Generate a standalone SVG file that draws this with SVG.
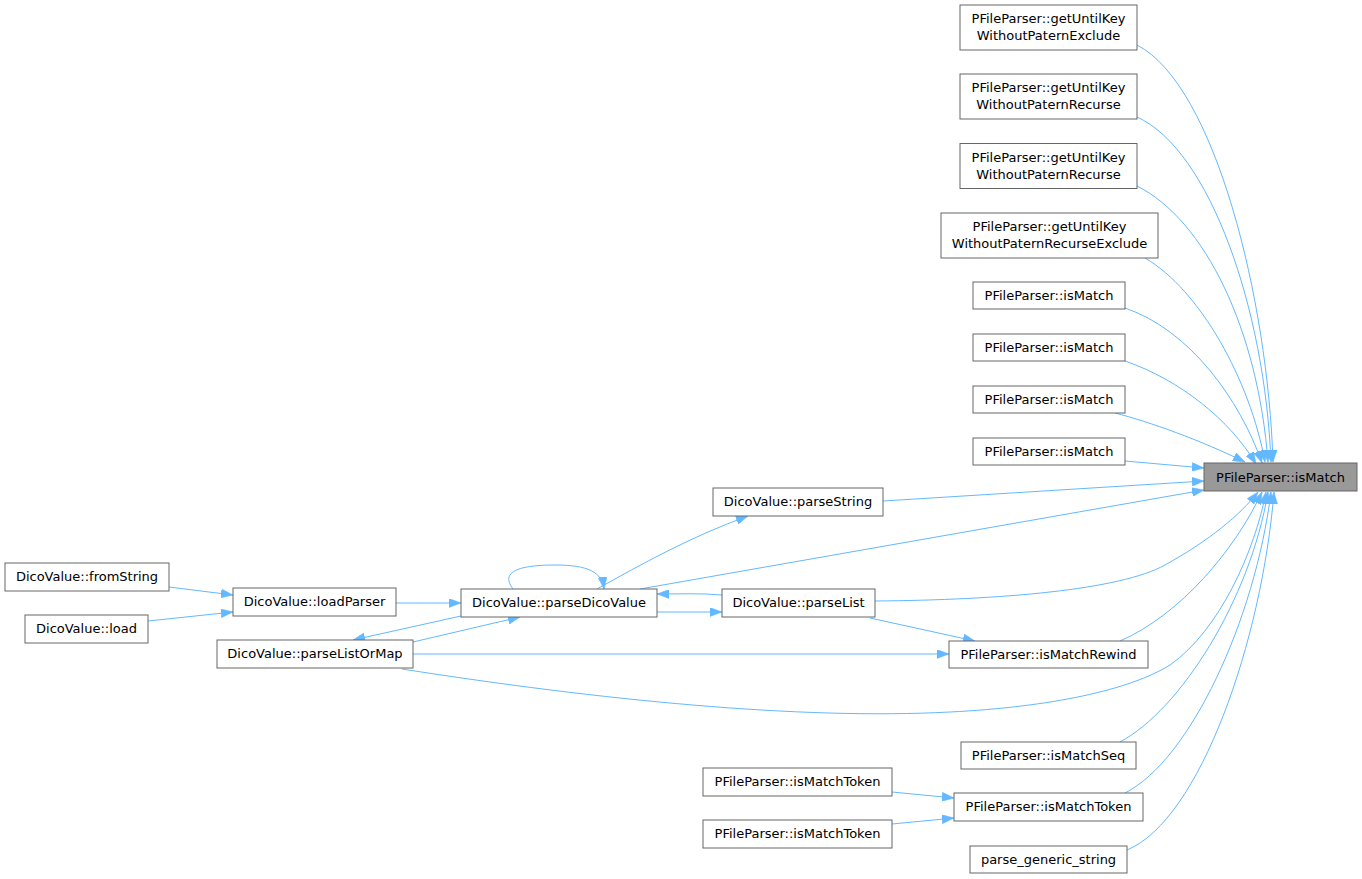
<svg xmlns="http://www.w3.org/2000/svg" width="1362" height="879" viewBox="0 0 1362 879">
<style>
.n rect{fill:#ffffff;stroke:#666666;stroke-width:1}
.n text{font-family:"DejaVu Sans",sans-serif;font-size:13px;fill:#000000;text-anchor:middle}
#main rect{fill:#999999}
.e path{fill:none;stroke:#63b8ff;stroke-width:1;marker-end:url(#ah)}
</style>
<defs>
<marker id="ah" viewBox="0 0 12 9" refX="12" refY="4.5" markerWidth="12" markerHeight="9" markerUnits="userSpaceOnUse" orient="auto">
<path d="M0,0 L12,4.5 L0,9 Z" fill="#63b8ff" stroke="#63b8ff" stroke-width="0.5"/>
</marker>
</defs>
<rect width="1362" height="879" fill="#ffffff"/>
<g class="e" id="edges">
<path d="M1137,45 C1215,85 1268,300 1273,462"/>
<path d="M1137,117 C1210,150 1265,310 1271,462"/>
<path d="M1137,186 C1205,220 1258,330 1268,462"/>
<path d="M1145,258 C1200,290 1250,380 1265,462"/>
<path d="M1125,308 C1190,330 1240,400 1262,463"/>
<path d="M1125,361 C1180,380 1230,420 1256,464"/>
<path d="M1115,413 C1150,422 1200,440 1245,462"/>
<path d="M1125,461 L1204,468"/>
<path d="M883,501 L1204,481"/>
<path d="M640,589 L1204,490"/>
<path d="M875,601 C1000,600 1120,590 1165,565 C1210,540 1240,515 1258,492"/>
<path d="M1120,641 C1180,615 1235,550 1262,492"/>
<path d="M402,669 C600,700 800,720 950,712 C1050,707 1130,690 1170,665 C1220,630 1255,550 1266,492"/>
<path d="M1120,742 C1180,710 1250,600 1268,492"/>
<path d="M1125,793 C1190,760 1255,620 1271,492"/>
<path d="M1127,850 C1200,820 1262,640 1274,492"/>
<path d="M169,587 L233,595"/>
<path d="M148,621 L233,612"/>
<path d="M396,603 L461,603"/>
<path d="M461,616 L353,640"/>
<path d="M413,642 L520,617"/>
<path d="M513,589 C500,572 518,565 555,565 C588,565 602,572 604,589"/>
<path d="M597,589 C640,565 690,537 748,516"/>
<path d="M722,595 C700,593 680,594 657,594"/>
<path d="M657,612 L722,612"/>
<path d="M870,618 L975,641"/>
<path d="M413,654 L949,654"/>
<path d="M892,792 L954,798"/>
<path d="M892,824 L954,818"/>
</g>
<g class="n" id="main"><rect x="1204" y="463" width="153" height="28"/><text x="1280.5" y="481.5">PFileParser::isMatch</text></g>
<g class="n" id="n1"><rect x="960" y="5" width="177" height="45"/><text x="1048.5" y="23">PFileParser::getUntilKey</text><text x="1048.5" y="40">WithoutPaternExclude</text></g>
<g class="n" id="n2"><rect x="960" y="74" width="177" height="45"/><text x="1048.5" y="92">PFileParser::getUntilKey</text><text x="1048.5" y="109">WithoutPaternRecurse</text></g>
<g class="n" id="n3"><rect x="960" y="143.5" width="177" height="45"/><text x="1048.5" y="161.5">PFileParser::getUntilKey</text><text x="1048.5" y="178.5">WithoutPaternRecurse</text></g>
<g class="n" id="n4"><rect x="941" y="213" width="217" height="45"/><text x="1049.5" y="231">PFileParser::getUntilKey</text><text x="1049.5" y="248">WithoutPaternRecurseExclude</text></g>
<g class="n" id="m1"><rect x="973" y="282" width="152" height="27"/><text x="1049" y="300">PFileParser::isMatch</text></g>
<g class="n" id="m2"><rect x="973" y="334" width="152" height="27"/><text x="1049" y="352">PFileParser::isMatch</text></g>
<g class="n" id="m3"><rect x="973" y="386" width="152" height="27"/><text x="1049" y="404">PFileParser::isMatch</text></g>
<g class="n" id="m4"><rect x="973" y="438" width="152" height="27"/><text x="1049" y="456">PFileParser::isMatch</text></g>
<g class="n" id="parseString"><rect x="713" y="488" width="170" height="28"/><text x="798" y="506">DicoValue::parseString</text></g>
<g class="n" id="parseDicoValue"><rect x="461" y="589" width="196" height="28"/><text x="559" y="607">DicoValue::parseDicoValue</text></g>
<g class="n" id="parseList"><rect x="722" y="589" width="153" height="28"/><text x="798.5" y="607">DicoValue::parseList</text></g>
<g class="n" id="loadParser"><rect x="233" y="588" width="163" height="28"/><text x="314.5" y="606">DicoValue::loadParser</text></g>
<g class="n" id="fromString"><rect x="5" y="563" width="164" height="28"/><text x="87" y="581">DicoValue::fromString</text></g>
<g class="n" id="load"><rect x="25" y="615" width="123" height="28"/><text x="86.5" y="633">DicoValue::load</text></g>
<g class="n" id="parseListOrMap"><rect x="217" y="640" width="196" height="28"/><text x="315" y="658">DicoValue::parseListOrMap</text></g>
<g class="n" id="isMatchRewind"><rect x="949" y="641" width="199" height="27"/><text x="1048.5" y="659">PFileParser::isMatchRewind</text></g>
<g class="n" id="isMatchSeq"><rect x="961" y="742" width="175" height="27"/><text x="1048.5" y="760">PFileParser::isMatchSeq</text></g>
<g class="n" id="isMatchToken"><rect x="954" y="793" width="189" height="28"/><text x="1048.5" y="811">PFileParser::isMatchToken</text></g>
<g class="n" id="isMatchToken1"><rect x="703" y="768" width="189" height="28"/><text x="797.5" y="786">PFileParser::isMatchToken</text></g>
<g class="n" id="isMatchToken2"><rect x="703" y="820" width="189" height="28"/><text x="797.5" y="838">PFileParser::isMatchToken</text></g>
<g class="n" id="parse_generic_string"><rect x="970" y="846" width="157" height="27"/><text x="1048.5" y="864">parse_generic_string</text></g>
</svg>
